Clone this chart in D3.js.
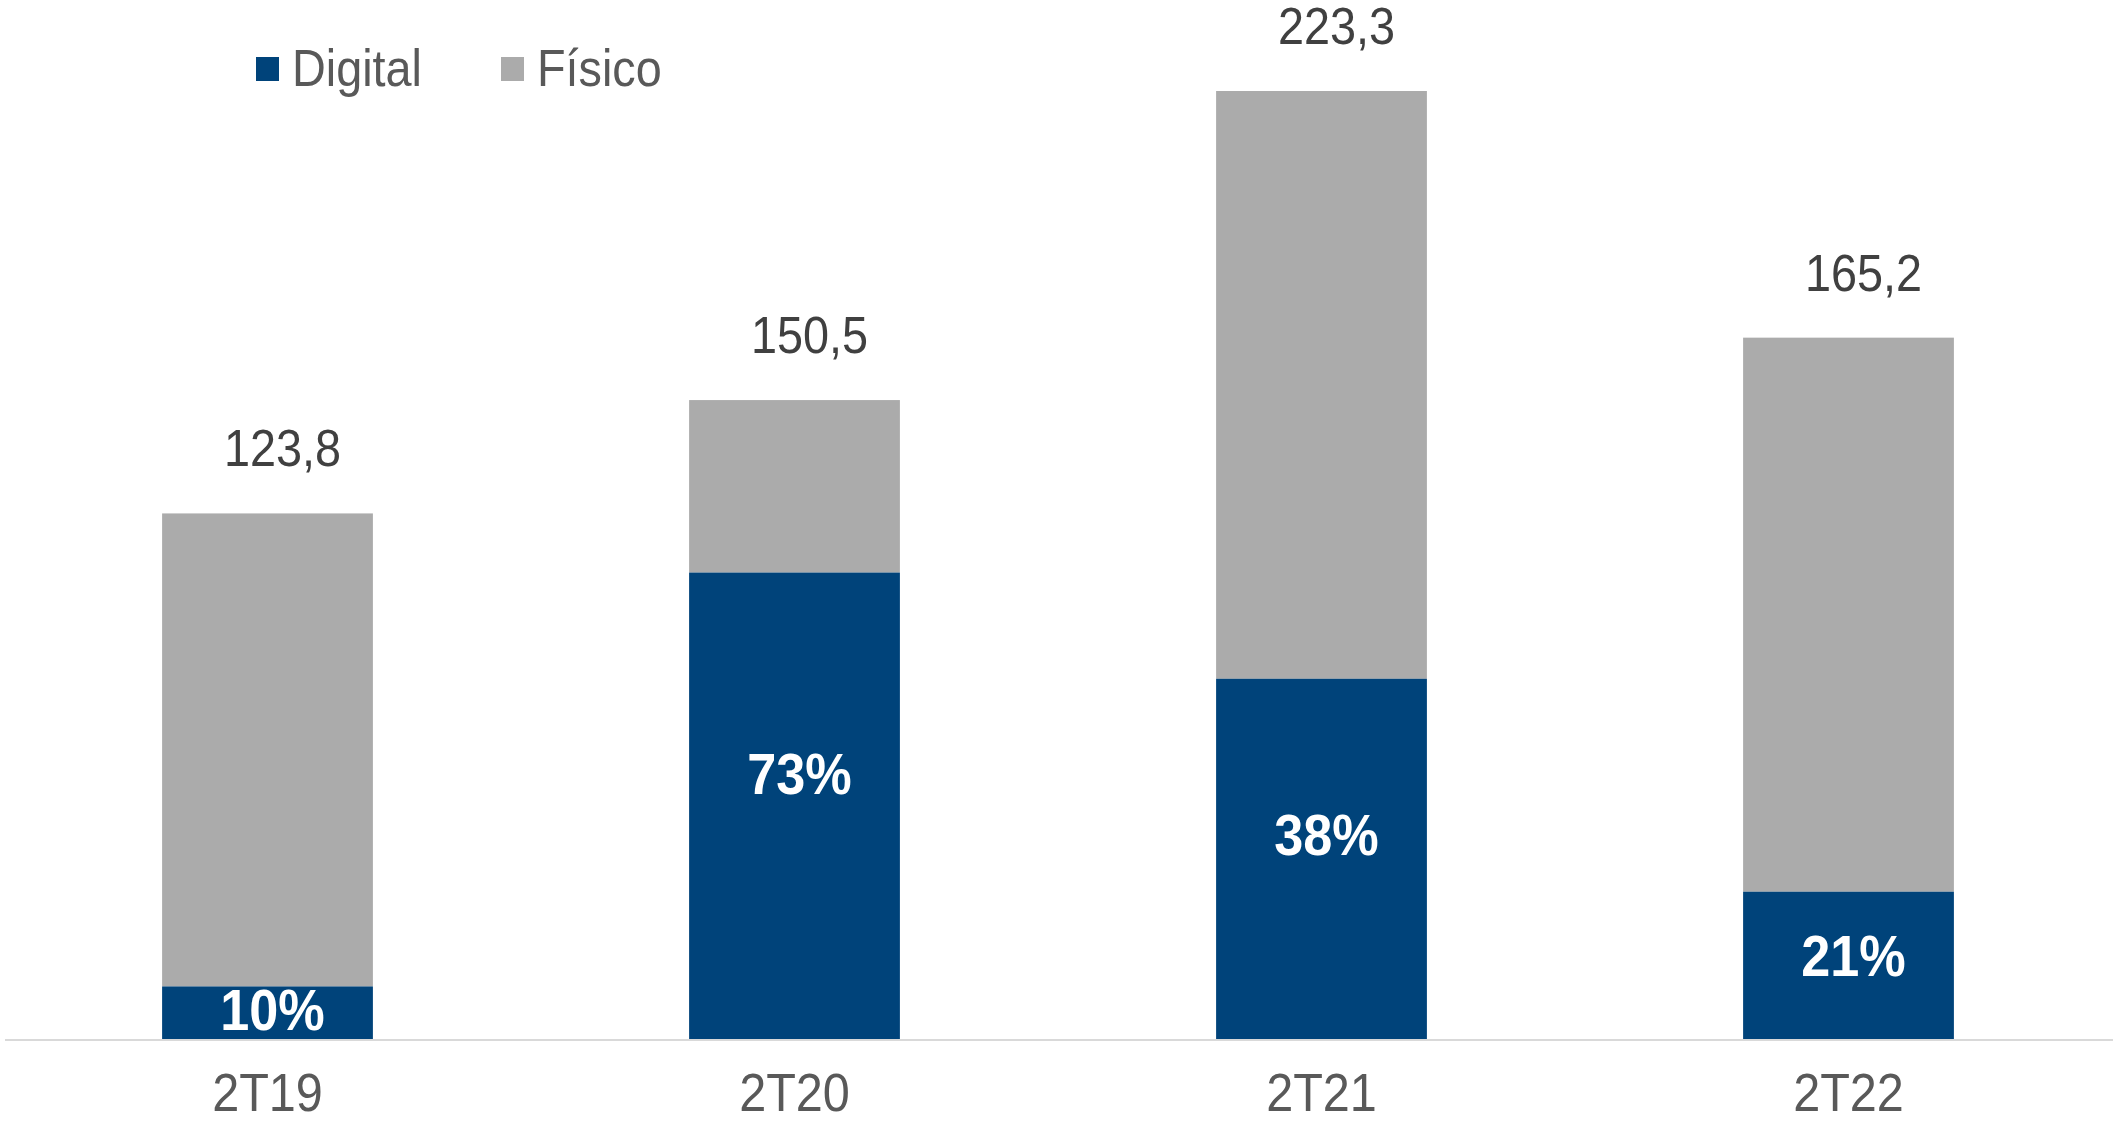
<!DOCTYPE html>
<html>
<head>
<meta charset="utf-8">
<script src="https://cdn.jsdelivr.net/npm/d3@7"></script>
<style>
  html, body { margin: 0; padding: 0; background: #fff; }
  svg { display: block; }
  text { font-family: "Liberation Sans", Arial, sans-serif; }
</style>
</head>
<body>
<div id="chart"></div>
<script>
const categories = ['2T19', '2T20', '2T21', '2T22']
const totals = [123.8, 150.5, 223.3, 165.2]
const digitalShare = [0.10, 0.73, 0.38, 0.21]
const totalLabels = ['123,8', '150,5', '223,3', '165,2']
const shareLabels = ['10%', '73%', '38%', '21%']
const seriesNames = ['Digital', 'Físico']
const colors = ['#00437A', '#ABABAB']

const width = 2113
const height = 1121
const baseline = 1039
const sx = 0.9 // text in the picture is a bit narrow

const data = categories.map((c, i) => ({
    cat: c,
    total: totals[i],
    digital: totals[i] * digitalShare[i],
    totalLabel: totalLabels[i],
    shareLabel: shareLabels[i]
}))

const svg = d3.select('#chart')
    .append('svg')
    .attr('width', width)
    .attr('height', height)

const x = d3.scaleBand()
    .domain(categories)
    .range([4, 2112])
    .paddingInner(0.6)
    .paddingOuter(0.3)

const y = d3.scaleLinear()
    .domain([0, 223.3])
    .range([baseline, 91])

// axis line at the bottom
svg.append('line')
    .attr('x1', 5).attr('x2', width)
    .attr('y1', baseline + 1).attr('y2', baseline + 1)
    .attr('stroke', '#d9d9d9')
    .attr('stroke-width', 2)

const bars = svg.append('g')
    .selectAll('g')
    .data(data)
    .enter()
    .append('g')

// físico (top part)
bars.append('rect')
    .attr('x', d => x(d.cat))
    .attr('width', x.bandwidth())
    .attr('y', d => y(d.total))
    .attr('height', d => y(d.digital) - y(d.total))
    .attr('fill', colors[1])

// digital (bottom part)
bars.append('rect')
    .attr('x', d => x(d.cat))
    .attr('width', x.bandwidth())
    .attr('y', d => y(d.digital))
    .attr('height', d => y(0) - y(d.digital))
    .attr('fill', colors[0])

// helper: text with a horizontal squeeze
function label(sel, px, py) {
    return sel.append('text')
        .attr('transform', d => `translate(${px(d)},${py(d)}) scale(${sx},1)`)
}

label(bars, d => x(d.cat) + x.bandwidth() / 2 + 15, d => y(d.total) - 47)
    .attr('text-anchor', 'middle')
    .attr('font-size', 52)
    .attr('fill', '#404040')
    .text(d => d.totalLabel)

// share labels sit a little above the middle of the blue part
label(bars, d => x(d.cat) + x.bandwidth() / 2 + 5,
        d => y(d.digital) + 0.43 * (y(0) - y(d.digital)) + 21)
    .attr('text-anchor', 'middle')
    .attr('font-size', 58)
    .attr('font-weight', 'bold')
    .attr('fill', '#fff')
    .text(d => d.shareLabel)

// category labels
label(bars, d => x(d.cat) + x.bandwidth() / 2, () => 1111)
    .attr('text-anchor', 'middle')
    .attr('font-size', 54)
    .attr('fill', '#595959')
    .text(d => d.cat)

// legend
const legendX = [256, 501]
const legend = svg.append('g')
    .selectAll('g')
    .data(seriesNames)
    .enter()
    .append('g')
    .attr('transform', (d, i) => `translate(${legendX[i]}, 0)`)

legend.append('rect')
    .attr('x', 0).attr('y', 57)
    .attr('width', 23).attr('height', 24)
    .attr('fill', (d, i) => colors[i])

legend.append('text')
    .attr('transform', `translate(36, 86) scale(${sx},1)`)
    .attr('font-size', 52)
    .attr('fill', '#595959')
    .text(d => d)
</script>
</body>
</html>
